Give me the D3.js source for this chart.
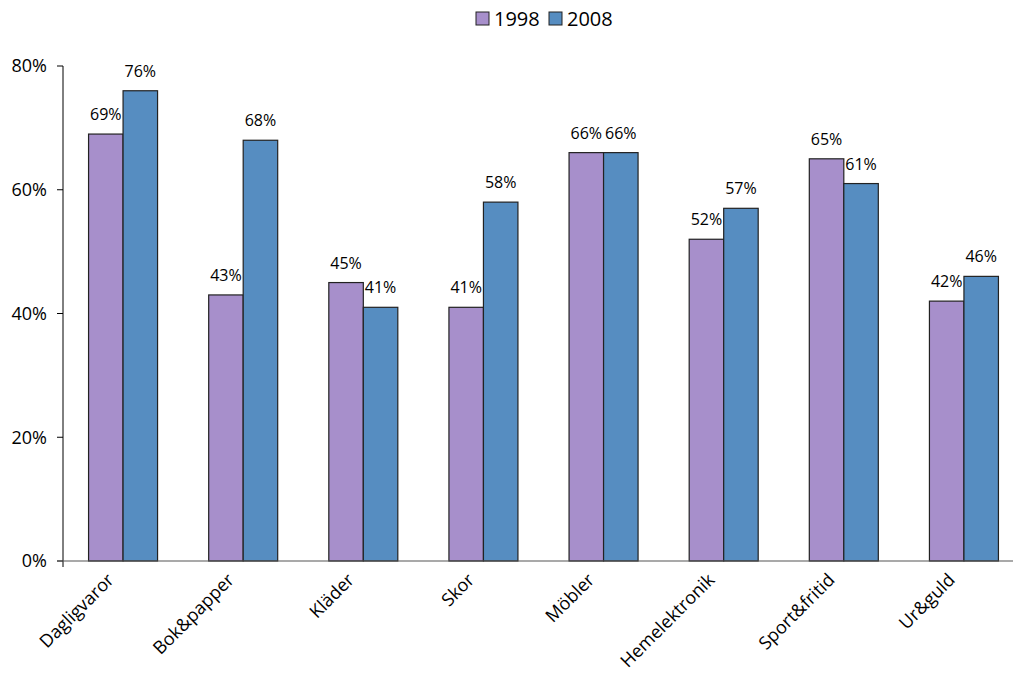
<!DOCTYPE html>
<html><head><meta charset="utf-8">
<script src="https://cdn.jsdelivr.net/npm/d3@7/dist/d3.min.js"></script>
<style>body{margin:0;background:#fff}svg{display:block}text{font-family:"Open Sans",sans-serif;fill:#000}</style>
</head><body><svg width="1013" height="690"></svg>
<script>
const categories = ["Dagligvaror","Bok&papper","Kläder","Skor","Möbler","Hemelektronik","Sport&fritid","Ur&guld"];
const series = ["1998","2008"];
const values1998 = [69,43,45,41,66,52,65,42];
const values2008 = [76,68,41,58,66,57,61,46];
const yTicks = [0,20,40,60,80];
const colors = ["#A78FCB","#568DC1"];

const svg = d3.select("svg");
const x0 = d3.scaleBand().domain(categories).range([63,1024]);
const x1 = d3.scaleBand().domain(series).range([0,69]);
const y = d3.scaleLinear().domain([0,80]).range([561,66]);
const data = categories.map((c,i)=>({c, v:[values1998[i], values2008[i]]}));

// y axis
svg.append("line").attr("x1",63).attr("x2",63).attr("y1",y(80)).attr("y2",567).attr("stroke","#000");
svg.selectAll(".yt").data(yTicks).enter().append("line").attr("x1",57).attr("x2",63)
  .attr("y1",d=>y(d)).attr("y2",d=>y(d)).attr("stroke","#000");
svg.selectAll(".yl").data(yTicks).enter().append("text").attr("x",47).attr("y",d=>y(d)).attr("dy","0.35em")
  .attr("text-anchor","end").style("font-size","18px").text(d=>d+"%");

// bars
const g = svg.selectAll(".grp").data(data).enter().append("g")
  .attr("transform",d=>`translate(${x0(d.c)+x0.bandwidth()/2-34.5},0)`);
g.selectAll("rect").data(d=>d.v.map((v,j)=>({s:series[j],v,j}))).enter().append("rect")
  .attr("x",d=>x1(d.s)).attr("width",x1.bandwidth()).attr("y",d=>y(d.v)).attr("height",d=>y(0)-y(d.v))
  .attr("fill",d=>colors[d.j]).attr("stroke","#222").attr("stroke-width",1.2);
g.selectAll("text").data(d=>d.v.map((v,j)=>({s:series[j],v,j}))).enter().append("text")
  .attr("x",d=>x1(d.s)+x1.bandwidth()/2).attr("y",d=>y(d.v)-14).attr("text-anchor","middle")
  .style("font-size","16px").text(d=>d.v+"%");

// x axis
svg.append("line").attr("x1",57).attr("x2",1013).attr("y1",y(0)).attr("y2",y(0)).attr("stroke","#555").attr("stroke-width",1.2);
svg.selectAll(".xl").data(categories).enter().append("text")
  .attr("transform",d=>`translate(${x0(d)+x0.bandwidth()/2-8},${581}) rotate(-45)`)
  .attr("text-anchor","end").style("font-size","18px").text(d=>d);

// legend
const lg = svg.append("g");
series.forEach((s,i)=>{
  const lx = 476 + i*73;
  lg.append("rect").attr("x",lx).attr("y",12).attr("width",13).attr("height",13).attr("fill",colors[i]).attr("stroke","#222");
  lg.append("text").attr("x",lx+18).attr("y",19).attr("dy","0.35em").style("font-size","20px").text(s);
});
</script></body></html>
